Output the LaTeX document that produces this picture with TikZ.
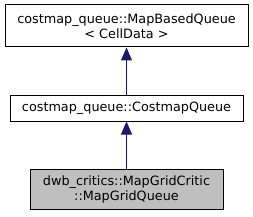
\documentclass[tikz,border=0pt]{standalone}
\usepackage{fontspec}
\setmainfont{DejaVu Sans}
\usetikzlibrary{arrows.meta}
\definecolor{edgeblue}{HTML}{191970}
\definecolor{hl}{HTML}{BFBFBF}
\begin{document}
\begin{tikzpicture}[x=1pt,y=-1pt,
  cls/.style={draw=black, line width=1pt, inner sep=0pt, align=center,
    font=\fontsize{12.8}{15}\selectfont},
  inh/.style={draw=edgeblue, line width=1pt, -{Triangle[length=13pt,width=11pt,fill=edgeblue]}}]
\useasboundingbox (0,0) rectangle (253,216);
\node[cls, minimum width=243pt, minimum height=42pt] (a) at (126.5,26) {costmap\_queue::MapBasedQueue\\< CellData >};
\node[cls, minimum width=233pt, minimum height=26pt] (b) at (126.5,108) {costmap\_queue::CostmapQueue};
\node[cls, fill=hl, minimum width=193pt, minimum height=40pt] (c) at (126.5,189) {dwb\_critics::MapGridCritic\\::MapGridQueue};
\draw[inh] (b.north) -- (a.south);
\draw[inh] (c.north) -- (b.south);
\end{tikzpicture}
\end{document}
